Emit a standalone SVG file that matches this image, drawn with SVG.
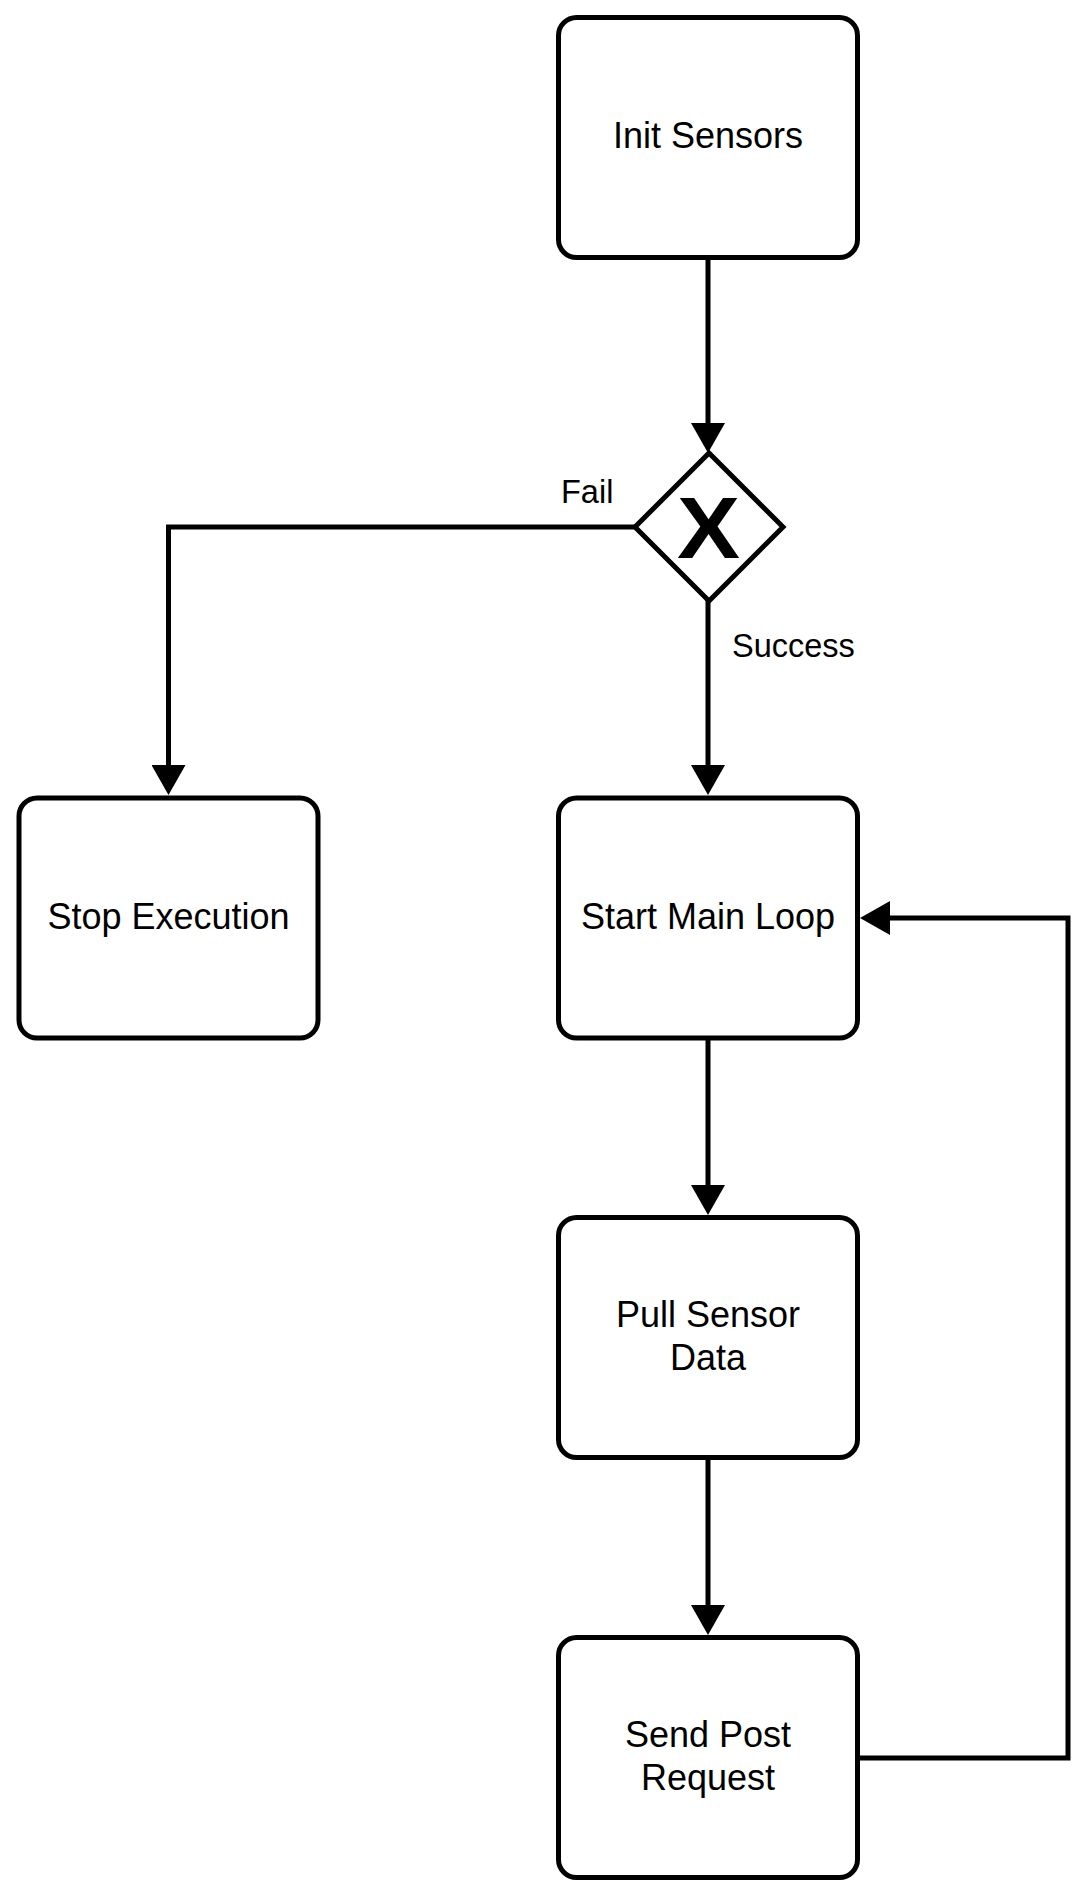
<svg xmlns="http://www.w3.org/2000/svg" width="1086" height="1896" viewBox="0 0 1086 1896">
<style>
.box{fill:#fff;stroke:#000;stroke-width:5}
.lbl{font-family:"Liberation Sans",Arial,sans-serif;font-size:36px;fill:#000;text-anchor:middle}
.edge{fill:none;stroke:#000;stroke-width:5;stroke-linejoin:miter}
.elbl{font-family:"Liberation Sans",Arial,sans-serif;font-size:32.5px;fill:#000}
</style>
<defs>
<marker id="arr" markerUnits="userSpaceOnUse" viewBox="0 0 30 34" refX="1" refY="17" markerWidth="30" markerHeight="34" orient="auto">
<path d="M0,0 L30,17 L0,34 z" fill="#000"/>
</marker>
</defs>
<rect width="1086" height="1896" fill="#fff"/>
<g id="connectors">
<path class="edge" d="M708,259 L708,424" marker-end="url(#arr)"/>
<path class="edge" d="M635,527 L168.5,527 L168.5,766" marker-end="url(#arr)"/>
<path class="edge" d="M708,600 L708,766" marker-end="url(#arr)"/>
<path class="edge" d="M708,1040 L708,1186" marker-end="url(#arr)"/>
<path class="edge" d="M708,1460 L708,1606" marker-end="url(#arr)"/>
<path class="edge" d="M860,1758 L1068,1758 L1068,918 L889,918" marker-end="url(#arr)"/>
<text class="elbl" x="561" y="503">Fail</text>
<text class="elbl" x="732" y="657">Success</text>
</g>
<g id="init-sensors">
<rect class="box" x="558.5" y="17.5" width="299" height="240" rx="18"/>
<text class="lbl" x="708" y="148">Init Sensors</text>
</g>
<g id="gateway">
<path d="M709,453 L783,527 L709,601 L635,527 z" fill="#fff" stroke="#000" stroke-width="5"/>
<text x="708.5" y="558" font-family="Liberation Sans,Arial,sans-serif" font-weight="bold" font-size="87" text-anchor="middle" fill="#000" textLength="63" lengthAdjust="spacingAndGlyphs">X</text>
</g>
<g id="stop-execution">
<rect class="box" x="19" y="798" width="299" height="240" rx="18"/>
<text class="lbl" x="168.5" y="928.5">Stop Execution</text>
</g>
<g id="start-main-loop">
<rect class="box" x="558.5" y="798" width="299" height="240" rx="18"/>
<text class="lbl" x="708" y="928.5">Start Main Loop</text>
</g>
<g id="pull-sensor-data">
<rect class="box" x="558.5" y="1217.5" width="299" height="240" rx="18"/>
<text class="lbl" x="708" y="1326.5">Pull Sensor</text>
<text class="lbl" x="708" y="1369.5">Data</text>
</g>
<g id="send-post-request">
<rect class="box" x="558.5" y="1637.5" width="299" height="240" rx="18"/>
<text class="lbl" x="708" y="1746.5">Send Post</text>
<text class="lbl" x="708" y="1789.5">Request</text>
</g>
</svg>
